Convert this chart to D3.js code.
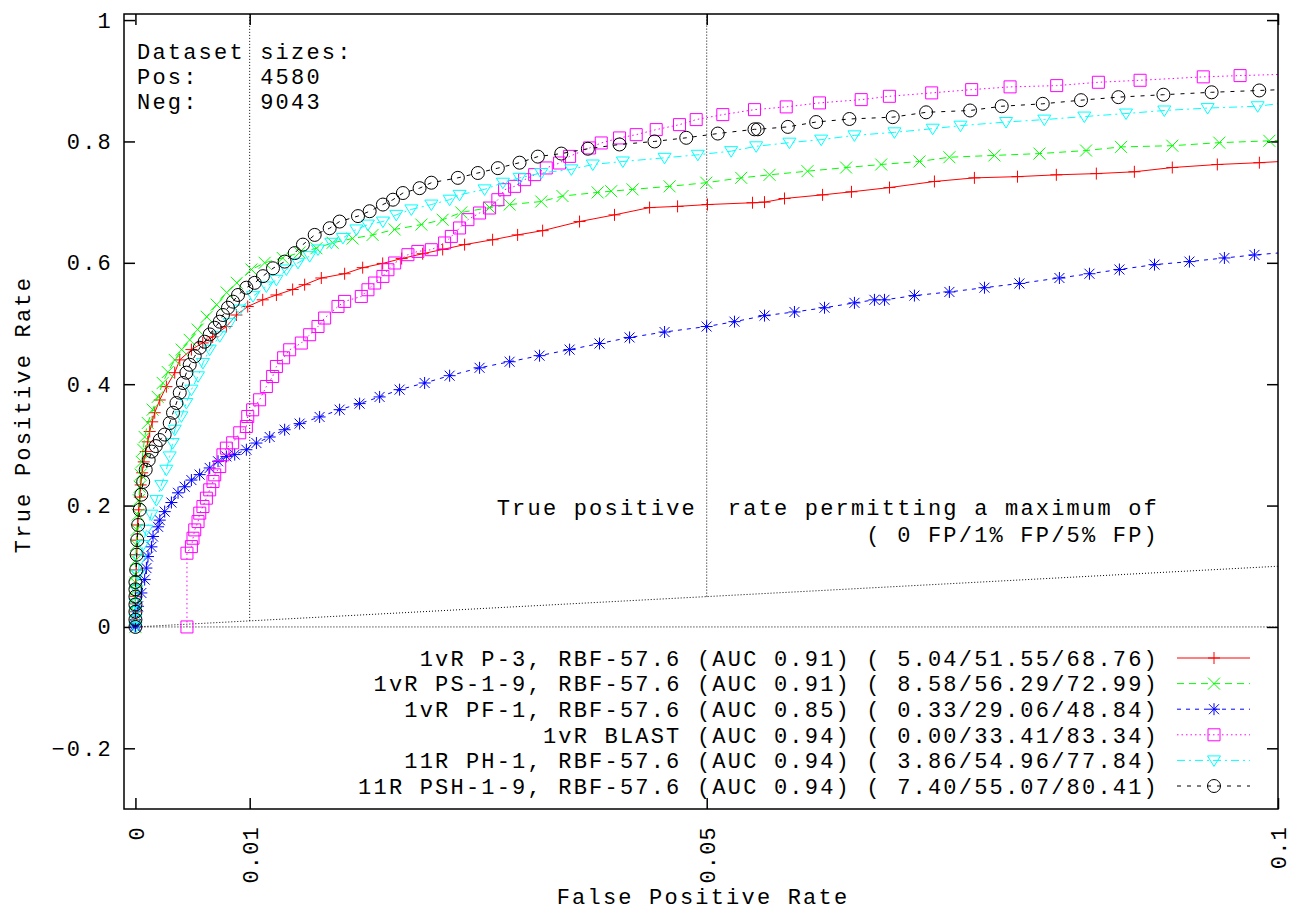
<!DOCTYPE html>
<html>
<head>
<meta charset="utf-8">
<script src="https://cdn.jsdelivr.net/npm/d3@7"></script>
<style>
  body { margin: 0; background: #fff; }
  text { font-family: "Liberation Mono", monospace; font-size: 22px; letter-spacing: 2.2px; fill: #000; white-space: pre; }
</style>
</head>
<body>
<div id="roc"></div>
<script>
// ROC points [false positive rate, true positive rate]
let p3Points = [[0,0],[0,0.012],[0,0.025],[0,0.038],[0,0.0504],
    [0.00003,0.069],[0.00007,0.094],[0.00011,0.119],[0.00016,0.143],[0.0002,0.168],[0.00029,0.193],[0.00038,0.214],
    [0.00046,0.234],[0.00059,0.254],[0.00073,0.272],[0.0009,0.289],[0.00108,0.305],[0.00125,0.322],[0.00147,0.338],
    [0.00169,0.353],[0.00213,0.374],[0.00271,0.396],[0.00344,0.419],[0.00388,0.440],[0.0049,0.457],[0.00589,0.468],
    [0.00676,0.478],[0.00796,0.495],[0.00884,0.514],[0.00983,0.528],[0.01114,0.539],[0.01234,0.547],[0.01376,0.556],
    [0.01481,0.564],[0.01627,0.575],[0.01831,0.582],[0.01989,0.592],[0.02164,0.599],[0.0233,0.607],[0.02514,0.615],
    [0.02689,0.622],[0.02881,0.630],[0.03126,0.638],[0.03345,0.646],[0.03564,0.653],[0.03887,0.668],[0.04193,0.679],
    [0.045,0.691],[0.04745,0.693],[0.05007,0.696],[0.05401,0.699],[0.05506,0.700],[0.05681,0.706],[0.06014,0.712],
    [0.06267,0.717],[0.066,0.724],[0.06993,0.734],[0.07343,0.740],[0.0772,0.742],[0.0806,0.745],[0.0841,0.747],
    [0.08743,0.750],[0.09075,0.757],[0.09469,0.762],[0.09837,0.765],[0.1012,0.768]];

let ps19Points = [[0,0],[0,0.012],[0,0.025],[0,0.037],[0,0.049],[0,0.061],[0,0.073],[0,0.0858],
    [0.00003,0.110],[0.00007,0.135],[0.00011,0.160],[0.0002,0.185],[0.00029,0.209],[0.00038,0.231],[0.00046,0.251],
    [0.00055,0.272],[0.00068,0.292],[0.00081,0.313],[0.00108,0.336],[0.00151,0.358],[0.00195,0.379],[0.00239,0.402],
    [0.00283,0.420],[0.00344,0.440],[0.00405,0.457],[0.00475,0.473],[0.00545,0.490],[0.00624,0.511],[0.00711,0.531],
    [0.00799,0.551],[0.00887,0.567],[0.01015,0.589],[0.01131,0.600],[0.01289,0.608],[0.01437,0.617],[0.01584,0.624],
    [0.01726,0.633],[0.01901,0.640],[0.02076,0.646],[0.02269,0.655],[0.02502,0.663],[0.02689,0.671],[0.02852,0.683],
    [0.031,0.691],[0.03275,0.696],[0.03552,0.701],[0.03738,0.710],[0.04045,0.716],[0.04164,0.718],[0.04351,0.721],
    [0.04675,0.726],[0.04996,0.732],[0.05302,0.740],[0.0555,0.745],[0.05882,0.751],[0.0622,0.757],[0.06527,0.762],
    [0.06862,0.767],[0.07124,0.774],[0.07518,0.777],[0.07912,0.780],[0.0832,0.785],[0.08626,0.791],[0.09075,0.793],
    [0.09486,0.798],[0.09924,0.801],[0.1012,0.803]];

let pf1Points = [[0,0],[0,0.0033],[0.00003,0.020],[0.00023,0.034],[0.00052,0.056],[0.00081,0.078],[0.00096,0.097],
    [0.0011,0.116],[0.0014,0.132],[0.00154,0.149],[0.00198,0.165],[0.00213,0.176],[0.00256,0.190],[0.00315,0.205],
    [0.00373,0.221],[0.00431,0.231],[0.0049,0.242],[0.00562,0.251],[0.0065,0.262],[0.00723,0.273],[0.00796,0.281],
    [0.00869,0.284],[0.00971,0.292],[0.01059,0.303],[0.01175,0.313],[0.01306,0.325],[0.01437,0.335],[0.01612,0.346],
    [0.01787,0.358],[0.01962,0.368],[0.02137,0.379],[0.02312,0.391],[0.02531,0.402],[0.0275,0.414],[0.03012,0.427],
    [0.03275,0.437],[0.03537,0.447],[0.038,0.457],[0.04062,0.467],[0.04325,0.477],[0.04631,0.486],[0.04999,0.495],
    [0.05243,0.503],[0.05506,0.513],[0.05768,0.519],[0.06031,0.526],[0.06293,0.534],[0.06468,0.539],[0.06556,0.539],
    [0.06818,0.546],[0.07124,0.552],[0.07431,0.559],[0.07737,0.566],[0.08087,0.575],[0.0835,0.582],[0.08612,0.589],
    [0.08919,0.597],[0.09225,0.602],[0.09531,0.608],[0.09794,0.613],[0.1012,0.618]];

let blastPoints = [[0.00451,0],[0.00451,0.1215],[0.0049,0.1324],[0.00504,0.1462],[0.00519,0.1599],[0.00548,0.1736],
    [0.00563,0.1875],[0.00591,0.1984],[0.00621,0.2122],[0.0065,0.2259],[0.00679,0.2396],[0.00694,0.2506],[0.00738,0.2643],
    [0.00766,0.2836],[0.00796,0.2946],[0.00851,0.3034],[0.00913,0.3199],[0.00971,0.3303],[0.00983,0.3467],[0.01026,0.3578],
    [0.01087,0.3743],[0.01146,0.3962],[0.01201,0.4127],[0.01234,0.4292],[0.01297,0.4435],[0.0135,0.4567],[0.01452,0.4678],
    [0.01525,0.4815],[0.01598,0.4951],[0.01656,0.509],[0.01773,0.5281],[0.01831,0.5364],[0.01977,0.5446],[0.02035,0.5556],
    [0.02094,0.5667],[0.02166,0.5776],[0.0221,0.5886],[0.02269,0.5997],[0.02385,0.6134],[0.02472,0.6188],[0.0259,0.6216],
    [0.02706,0.6327],[0.02765,0.6435],[0.02837,0.6574],[0.0291,0.6711],[0.03012,0.6821],[0.031,0.6903],[0.03172,0.704],
    [0.03231,0.7205],[0.03318,0.726],[0.03406,0.737],[0.03494,0.7453],[0.03596,0.7563],[0.03712,0.7645],[0.038,0.7754],
    [0.03975,0.7893],[0.04077,0.7975],[0.04237,0.8058],[0.04383,0.8112],[0.04558,0.8195],[0.04762,0.8277],[0.04908,0.836],
    [0.05141,0.8442],[0.05418,0.8524],[0.05696,0.8569],[0.05987,0.8635],[0.06352,0.8689],[0.06599,0.8744],[0.06969,0.88],
    [0.07319,0.8854],[0.07655,0.8899],[0.08063,0.892],[0.08428,0.8975],[0.08793,0.9008],[0.09346,0.9064],[0.09668,0.9085],
    [0.1012,0.911]];

let ph1Points = [[0,0],[0,0.013],[0,0.026],[0,0.0386],[0.00009,0.061],[0.00023,0.086],[0.00038,0.110],[0.00066,0.135],
    [0.00096,0.160],[0.0014,0.185],[0.00184,0.209],[0.00227,0.234],[0.00271,0.259],[0.003,0.281],[0.00326,0.303],
    [0.00344,0.325],[0.00402,0.347],[0.00446,0.369],[0.0049,0.391],[0.00548,0.413],[0.00591,0.435],[0.0065,0.457],
    [0.00738,0.479],[0.00825,0.501],[0.00913,0.523],[0.01029,0.545],[0.01146,0.561],[0.01234,0.572],[0.01321,0.589],
    [0.01423,0.600],[0.01525,0.611],[0.01598,0.622],[0.01715,0.633],[0.01816,0.641],[0.01934,0.655],[0.02035,0.663],
    [0.02166,0.668],[0.02283,0.679],[0.02415,0.688],[0.0259,0.696],[0.0275,0.704],[0.02837,0.712],[0.03056,0.721],
    [0.03216,0.732],[0.03362,0.740],[0.03552,0.748],[0.03815,0.754],[0.04003,0.762],[0.04266,0.767],[0.04631,0.773],
    [0.04922,0.778],[0.05214,0.784],[0.05433,0.792],[0.05724,0.798],[0.06002,0.803],[0.06293,0.810],[0.06643,0.815],
    [0.06978,0.821],[0.07221,0.826],[0.0762,0.832],[0.07955,0.836],[0.08305,0.841],[0.0867,0.846],[0.09005,0.851],
    [0.09384,0.855],[0.09822,0.858],[0.1012,0.865]];

let psh19Points = [[0,0],[0,0.012],[0,0.025],[0,0.037],[0,0.05],[0,0.062],[0,0.074],[0.00007,0.094],[0.00011,0.119],
    [0.00016,0.143],[0.00024,0.168],[0.00038,0.193],[0.00052,0.218],[0.00068,0.239],[0.0009,0.259],[0.00116,0.275],
    [0.00143,0.289],[0.00178,0.298],[0.00213,0.308],[0.00256,0.317],[0.003,0.336],[0.00329,0.353],[0.00359,0.369],
    [0.00388,0.386],[0.00416,0.402],[0.00446,0.419],[0.00475,0.432],[0.00519,0.446],[0.00563,0.460],[0.00606,0.470],
    [0.0065,0.482],[0.00694,0.493],[0.00738,0.503],[0.00766,0.514],[0.0081,0.526],[0.00854,0.536],[0.00898,0.547],
    [0.00971,0.559],[0.01044,0.567],[0.01116,0.578],[0.01204,0.591],[0.01306,0.602],[0.01394,0.616],[0.01466,0.630],
    [0.01569,0.646],[0.017,0.657],[0.01787,0.668],[0.01948,0.677],[0.0205,0.685],[0.02166,0.696],[0.02254,0.704],
    [0.02341,0.715],[0.02487,0.723],[0.0259,0.732],[0.02822,0.740],[0.02997,0.748],[0.03172,0.756],[0.03362,0.765],
    [0.03522,0.775],[0.03727,0.780],[0.0396,0.788],[0.04237,0.795],[0.04543,0.800],[0.04821,0.806],[0.05097,0.813],
    [0.05418,0.820],[0.05447,0.820],[0.0571,0.824],[0.05958,0.832],[0.06249,0.837],[0.06628,0.840],[0.0692,0.848],
    [0.07305,0.851],[0.07582,0.858],[0.07941,0.862],[0.08276,0.868],[0.08603,0.873],[0.08997,0.877],[0.09419,0.881],
    [0.09836,0.884],[0.1012,0.886]];

let seriesNames = ['1vR P-3, RBF-57.6', '1vR PS-1-9, RBF-57.6', '1vR PF-1, RBF-57.6',
    '1vR BLAST', '11R PH-1, RBF-57.6', '11R PSH-1-9, RBF-57.6'];
let aucValues = [0.91, 0.91, 0.85, 0.94, 0.94, 0.94];
let tprAt0 = [5.04, 8.58, 0.33, 0.00, 3.86, 7.40];
let tprAt1 = [51.55, 56.29, 29.06, 33.41, 54.96, 55.07];
let tprAt5 = [68.76, 72.99, 48.84, 83.34, 77.84, 80.41];

let xTicks = [0, 0.01, 0.05, 0.1],
    xTickLabels = ['0', '0.01', '0.05', '0.1'],
    yTicks = [-0.2, 0, 0.2, 0.4, 0.6, 0.8, 1],
    xRange = [-0.001, 0.1],
    yRange = [-0.3, 1.01];

let datasetLines = ['Dataset sizes:', 'Pos:    4580', 'Neg:    9043'];
let noteLines = ['True positive  rate permitting a maximum of', '( 0 FP/1% FP/5% FP)'];

let width = 1294, height = 912,
    margin = {left: 124, top: 14, right: 16, bottom: 103};

let styles = [
    {color: '#ff0000', dash: null, shape: 'plus'},
    {color: '#00ff00', dash: '7,5', shape: 'cross'},
    {color: '#0000ff', dash: '4,5', shape: 'star'},
    {color: '#ff00ff', dash: '1.5,3', shape: 'square'},
    {color: '#00ffff', dash: '8,4,2,4', shape: 'triangle'},
    {color: '#000000', dash: '4,6', shape: 'circle'}
];

let shapePaths = {
    plus: 'M-6,0H6M0,-6V6',
    cross: 'M-6,-6L6,6M-6,6L6,-6',
    star: 'M-6,0H6M0,-6V6M-5,-5L5,5M-5,5L5,-5',
    square: 'M-6,-6H6V6H-6Z',
    triangle: 'M-6.5,-4.5H6.5L0,6Z',
    circle: 'M6.5,0A6.5,6.5,0,1,1,-6.5,0A6.5,6.5,0,1,1,6.5,0Z'
};

let svg = d3.select('#roc').append('svg')
    .attr('width', width)
    .attr('height', height);

let xScale = d3.scaleLinear()
    .domain(xRange)
    .range([margin.left, width - margin.right]);

let yScale = d3.scaleLinear()
    .domain(yRange)
    .range([height - margin.bottom, margin.top]);

svg.append('clipPath').attr('id', 'plot-clip')
    .append('rect')
    .attr('x', margin.left)
    .attr('y', margin.top)
    .attr('width', width - margin.left - margin.right)
    .attr('height', height - margin.top - margin.bottom);

// guide lines: zero axis, random diagonal, 1% and 5% markers
let guide_g = svg.append('g').attr('class', 'guide_g')
    .attr('stroke', '#000')
    .attr('stroke-width', 1)
    .attr('stroke-dasharray', '1,2');

guide_g.append('line')
    .attr('x1', xScale(0)).attr('y1', yScale(0))
    .attr('x2', xScale(0.1)).attr('y2', yScale(0));

guide_g.append('line')
    .attr('x1', xScale(0)).attr('y1', yScale(0))
    .attr('x2', xScale(0.1)).attr('y2', yScale(0.1));

[0.01, 0.05].forEach(function (v) {
    guide_g.append('line')
        .attr('x1', xScale(v)).attr('y1', yScale(v))
        .attr('x2', xScale(v)).attr('y2', yScale(yRange[1]));
});

// axes with inward ticks on all four sides
let bottomAxis = d3.axisBottom(xScale)
    .tickValues(xTicks)
    .tickSize(-11)
    .tickSizeOuter(0)
    .tickFormat((d, i) => xTickLabels[i]);

let xAxis_g = svg.append('g')
    .attr('transform', `translate(0, ${height - margin.bottom})`)
    .call(bottomAxis);

let leftAxis = d3.axisLeft(yScale)
    .tickValues(yTicks)
    .tickSize(-11)
    .tickSizeOuter(0)
    .tickPadding(11)
    .tickFormat(d3.format('~g'));

svg.append('g')
    .attr('transform', `translate(${margin.left}, 0)`)
    .call(leftAxis);

svg.append('g')
    .attr('transform', `translate(0, ${margin.top})`)
    .call(d3.axisTop(xScale).tickValues(xTicks).tickSize(-11).tickSizeOuter(0).tickFormat(''));

svg.append('g')
    .attr('transform', `translate(${width - margin.right}, 0)`)
    .call(d3.axisRight(yScale).tickValues(yTicks).tickSize(-11).tickSizeOuter(0).tickFormat(''));

svg.selectAll('.domain').remove();
svg.selectAll('.tick line').attr('stroke', '#000').attr('stroke-width', 1.5);
svg.selectAll('.tick text')
    .attr('fill', '#000')
    .style('font-family', '"Liberation Mono", monospace')
    .style('font-size', '22px');

xAxis_g.selectAll('text')
    .attr('transform', 'rotate(-90)')
    .attr('x', -17)
    .attr('y', 0)
    .attr('dy', '0.35em')
    .style('letter-spacing', '1.2px')
    .style('text-anchor', 'end');

// curves
let lineGen = d3.line()
    .x(d => xScale(d[0]))
    .y(d => yScale(d[1]));

let allSeries = [p3Points, ps19Points, pf1Points, blastPoints, ph1Points, psh19Points];

let curve_g = svg.append('g')
    .attr('class', 'curve_g')
    .attr('clip-path', 'url(#plot-clip)');

allSeries.forEach(function (points, i) {
    let st = styles[i];
    let g = curve_g.append('g').attr('class', 'series');
    g.append('path')
        .datum(points)
        .attr('d', lineGen)
        .attr('fill', 'none')
        .attr('stroke', st.color)
        .attr('stroke-width', 1)
        .attr('stroke-dasharray', st.dash);
    g.selectAll('.pt')
        .data(points.filter(d => d[0] <= xRange[1]))
        .enter().append('path')
        .attr('class', 'pt')
        .attr('transform', d => `translate(${xScale(d[0])}, ${yScale(d[1])})`)
        .attr('d', shapePaths[st.shape])
        .attr('fill', 'none')
        .attr('stroke', st.color)
        .attr('stroke-width', 1);
});

// border
svg.append('rect')
    .attr('x', margin.left)
    .attr('y', margin.top)
    .attr('width', width - margin.left - margin.right)
    .attr('height', height - margin.top - margin.bottom)
    .attr('fill', 'none')
    .attr('stroke', '#000')
    .attr('stroke-width', 1.5);

// legend
let legendRight = 1159, legendTop = 658, legendStep = 25.6;

let legend_g = svg.append('g').attr('class', 'legend_g');

seriesNames.forEach(function (name, i) {
    let st = styles[i];
    let y = legendTop + i * legendStep;
    let rates = [tprAt0[i], tprAt1[i], tprAt5[i]].map(v => v.toFixed(2).padStart(5, ' ')).join('/');
    legend_g.append('text')
        .attr('x', legendRight)
        .attr('y', y)
        .attr('dy', '0.35em')
        .attr('text-anchor', 'end')
        .text(`${name} (AUC ${aucValues[i].toFixed(2)}) (${rates})`);
    legend_g.append('line')
        .attr('x1', 1177).attr('x2', 1250)
        .attr('y1', y).attr('y2', y)
        .attr('stroke', st.color)
        .attr('stroke-width', 1)
        .attr('stroke-dasharray', st.dash);
    legend_g.append('path')
        .attr('transform', `translate(1214, ${y})`)
        .attr('d', shapePaths[st.shape])
        .attr('fill', 'none')
        .attr('stroke', st.color);
});

// labels
svg.append('g').selectAll('text')
    .data(datasetLines)
    .enter().append('text')
    .attr('x', 137)
    .attr('y', (d, i) => 51 + i * 25)
    .attr('dy', '0.35em')
    .text(d => d);

svg.append('g').selectAll('text')
    .data(noteLines)
    .enter().append('text')
    .attr('x', legendRight)
    .attr('y', (d, i) => 507 + i * 27)
    .attr('dy', '0.35em')
    .attr('text-anchor', 'end')
    .text(d => d);

svg.append('text')
    .attr('transform', `translate(22, ${(margin.top + height - margin.bottom) / 2 + 3}) rotate(-90)`)
    .attr('dy', '0.35em')
    .attr('text-anchor', 'middle')
    .text('True Positive Rate');

svg.append('text')
    .attr('x', (margin.left + width - margin.right) / 2 + 2)
    .attr('y', 896)
    .attr('dy', '0.35em')
    .attr('text-anchor', 'middle')
    .text('False Positive Rate');
</script>
</body>
</html>
